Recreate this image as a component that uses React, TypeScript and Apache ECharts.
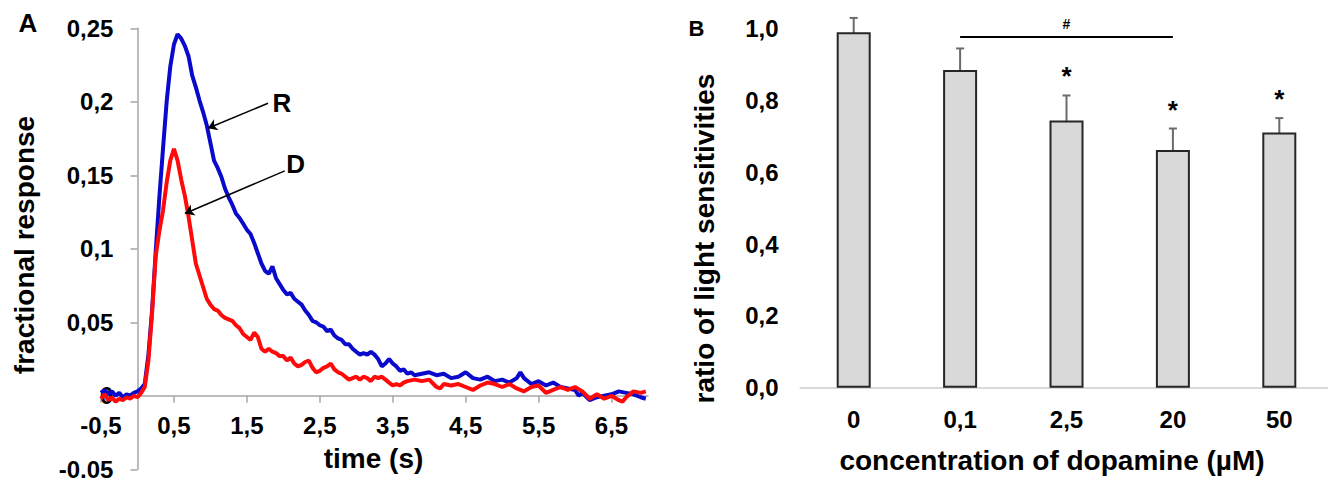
import { useEffect, useRef } from 'react';
import * as echarts from 'echarts';

const FONT = '"Liberation Sans", Arial, Helvetica, sans-serif';

// Panel A: fractional photoresponse over time (s), R = control, D = dopamine
const timeR = [
  -0.5, -0.45, -0.4, -0.35, -0.3, -0.25, -0.2, -0.15, -0.1, -0.05, 0, 0.05, 0.1, 0.15, 0.2, 0.25,
  0.3, 0.35, 0.4, 0.45, 0.5, 0.55, 0.6, 0.65, 0.7, 0.75, 0.8, 0.85, 0.9, 0.95, 1.0, 1.05, 1.1,
  1.15, 1.2, 1.25, 1.3, 1.35, 1.4, 1.45, 1.5, 1.55, 1.6, 1.65, 1.7, 1.75, 1.8, 1.85, 1.9, 1.95,
  2.0, 2.05, 2.1, 2.15, 2.2, 2.25, 2.3, 2.35, 2.4, 2.45, 2.5, 2.55, 2.6, 2.65, 2.7, 2.75, 2.8,
  2.85, 2.9, 2.95, 3.0, 3.05, 3.1, 3.15, 3.2, 3.25, 3.3, 3.35, 3.4, 3.45, 3.5, 3.55, 3.6, 3.65,
  3.7, 3.75, 3.8, 3.9, 4.0, 4.1, 4.2, 4.3, 4.4, 4.5, 4.6, 4.7, 4.8, 4.9, 5.0, 5.1, 5.2, 5.25,
  5.3, 5.4, 5.5, 5.6, 5.7, 5.8, 5.9, 6.0, 6.05, 6.1, 6.2, 6.3, 6.4, 6.5, 6.6, 6.7, 6.8, 6.9, 6.97,
];
const respR = [
  0.002, 0.004, 0.001, 0.003, 0.0, 0.002, -0.001, 0.001, 0.0, 0.002, 0.003, 0.005, 0.008, 0.028,
  0.058, 0.098, 0.135, 0.168, 0.2, 0.224, 0.239, 0.246, 0.243, 0.238, 0.231, 0.218, 0.21, 0.201,
  0.193, 0.184, 0.172, 0.16, 0.155, 0.149, 0.141, 0.135, 0.13, 0.124, 0.121, 0.117, 0.113, 0.11,
  0.104, 0.097, 0.09, 0.085, 0.083, 0.088, 0.08, 0.076, 0.072, 0.069, 0.07, 0.066, 0.064, 0.062,
  0.058, 0.055, 0.051, 0.05, 0.048, 0.047, 0.044, 0.045, 0.041, 0.039, 0.038, 0.035, 0.035,
  0.032, 0.03, 0.028, 0.029, 0.028, 0.03, 0.028, 0.025, 0.02, 0.022, 0.025, 0.022, 0.02, 0.017,
  0.018, 0.015, 0.016, 0.014, 0.015, 0.016, 0.014, 0.015, 0.012, 0.013, 0.016, 0.012, 0.011,
  0.013, 0.01, 0.011, 0.009, 0.012, 0.016, 0.012, 0.008, 0.01, 0.007, 0.009, 0.006, 0.005, 0.004,
  0.0, 0.002, -0.003, -0.001, 0.0, 0.001, 0.003, 0.002, 0.001, -0.001, -0.002,
];
const timeD = [
  -0.5, -0.45, -0.4, -0.35, -0.3, -0.25, -0.2, -0.15, -0.1, -0.05, 0, 0.05, 0.1, 0.15, 0.2, 0.25,
  0.3, 0.35, 0.4, 0.45, 0.5, 0.55, 0.6, 0.65, 0.7, 0.75, 0.8, 0.85, 0.9, 0.95, 1.0, 1.05, 1.1,
  1.15, 1.2, 1.25, 1.3, 1.35, 1.4, 1.45, 1.5, 1.55, 1.6, 1.65, 1.7, 1.75, 1.8, 1.85, 1.9, 1.95,
  2.0, 2.05, 2.1, 2.15, 2.2, 2.25, 2.3, 2.35, 2.4, 2.45, 2.5, 2.55, 2.6, 2.65, 2.7, 2.75, 2.8,
  2.85, 2.9, 2.95, 3.0, 3.05, 3.1, 3.15, 3.2, 3.25, 3.3, 3.35, 3.4, 3.45, 3.5, 3.55, 3.6, 3.65,
  3.7, 3.8, 3.9, 4.0, 4.1, 4.15, 4.2, 4.3, 4.4, 4.5, 4.6, 4.7, 4.8, 4.9, 5.0, 5.1, 5.2, 5.3, 5.4,
  5.5, 5.6, 5.7, 5.8, 5.9, 6.0, 6.1, 6.2, 6.3, 6.4, 6.5, 6.6, 6.65, 6.7, 6.8, 6.9, 6.97,
];
const respD = [
  -0.002, 0.001, -0.003, -0.001, -0.004, -0.002, -0.003, -0.001, -0.002, 0.0, -0.001, 0.002,
  0.006, 0.024, 0.056, 0.095, 0.112, 0.126, 0.145, 0.16, 0.168, 0.16, 0.147, 0.136, 0.122, 0.106,
  0.09, 0.082, 0.074, 0.066, 0.062, 0.059, 0.058, 0.055, 0.053, 0.052, 0.051, 0.048, 0.046,
  0.042, 0.04, 0.038, 0.043, 0.04, 0.032, 0.03, 0.032, 0.03, 0.029, 0.027, 0.027, 0.024, 0.026,
  0.022, 0.02, 0.021, 0.023, 0.024, 0.019, 0.016, 0.017, 0.019, 0.02, 0.022, 0.018, 0.016, 0.015,
  0.013, 0.011, 0.012, 0.013, 0.011, 0.013, 0.012, 0.01, 0.013, 0.012, 0.013, 0.011, 0.009,
  0.007, 0.008, 0.007, 0.009, 0.01, 0.011, 0.01, 0.011, 0.006, 0.005, 0.008, 0.007, 0.008, 0.006,
  0.004, 0.007, 0.009, 0.008, 0.006, 0.008, 0.005, 0.003, 0.006, 0.007, 0.002, 0.004, 0.006,
  0.004, 0.006, 0.003, -0.002, 0.001, -0.002, 0.0, -0.003, -0.004, -0.001, 0.003, 0.002, 0.003,
];
const timeTicksA = [-0.5, 0.5, 1.5, 2.5, 3.5, 4.5, 5.5, 6.5];
const timeRangeA = [-0.5, 7];
const respRangeA = [-0.05, 0.25];

// Panel B: ratio of light sensitivities vs dopamine concentration (µM)
const concentrations = ['0', '0,1', '2,5', '20', '50'];
const sensitivityRatio = [0.99, 0.885, 0.744, 0.662, 0.711];
const sensitivityErr = [0.04, 0.06, 0.07, 0.06, 0.04];
const significance = ['', '', '*', '*', '*'];

const comma = (v: number, digits?: number) =>
  (digits === undefined ? String(Number(v.toFixed(2))) : v.toFixed(digits)).replace('.', ',');

const tickFont = {
  fontFamily: FONT,
  fontWeight: 'bold' as const,
  fontSize: 24,
  lineHeight: 18,
  color: '#000',
};

// plot area of panel A (pixels)
const gridA = { left: 101, top: 28.3, width: 547, height: 441 };
// axes of panel A cross at time 0 and response 0
const xAxisShiftA =
  -gridA.height * ((0 - respRangeA[0]) / (respRangeA[1] - respRangeA[0]));
const yAxisShiftA =
  -gridA.width * ((0 - timeRangeA[0]) / (timeRangeA[1] - timeRangeA[0]));

export default function App() {
  const ref = useRef<HTMLDivElement>(null);

  useEffect(() => {
    if (!ref.current) return;
    const chart = echarts.init(ref.current, undefined, { renderer: 'svg' });

    const option: any = {
      animation: false,
      backgroundColor: '#fff',
      grid: [
        { ...gridA, containLabel: false, outerBoundsMode: 'none' },
        { left: 800.5, top: 28.7, width: 532, height: 359, containLabel: false, outerBoundsMode: 'none' },
      ],
      xAxis: [
        {
          type: 'value',
          gridIndex: 0,
          min: timeRangeA[0],
          max: timeRangeA[1],
          position: 'bottom',
          offset: xAxisShiftA,
          axisLine: { onZero: false, lineStyle: { color: '#a6a6a6', width: 1.5 } },
          axisTick: { show: true, length: 7, customValues: timeTicksA, lineStyle: { color: '#a6a6a6', width: 1.5 } },
          axisLabel: { ...tickFont, margin: 21, customValues: timeTicksA, formatter: (v: number) => comma(v) },
          splitLine: { show: false },
        },
        {
          type: 'category',
          gridIndex: 1,
          data: concentrations,
          axisLine: { lineStyle: { color: '#d9d9d9', width: 2 } },
          axisTick: { show: false },
          axisLabel: { ...tickFont, margin: 23 },
          splitLine: { show: false },
        },
      ],
      yAxis: [
        {
          type: 'value',
          gridIndex: 0,
          min: respRangeA[0],
          max: respRangeA[1],
          interval: 0.05,
          position: 'left',
          offset: yAxisShiftA,
          axisLine: { show: true, onZero: false, lineStyle: { color: '#a6a6a6', width: 1.5 } },
          axisTick: { show: true, length: 7, lineStyle: { color: '#a6a6a6', width: 1.5 } },
          axisLabel: { ...tickFont, margin: 24, formatter: (v: number) => comma(v) },
          splitLine: { show: false },
        },
        {
          type: 'value',
          gridIndex: 1,
          min: 0,
          max: 1,
          interval: 0.2,
          axisLine: { show: false },
          axisTick: { show: false },
          axisLabel: { ...tickFont, margin: 22, formatter: (v: number) => comma(v, 1) },
          splitLine: { show: false },
        },
      ],
      series: [
        {
          name: 'R',
          type: 'line',
          xAxisIndex: 0,
          yAxisIndex: 0,
          data: timeR.map((t, i) => [t, respR[i]]),
          showSymbol: false,
          color: '#0a0acc',
          lineStyle: { width: 4, color: '#0a0acc' },
          markLine: {
            silent: true,
            symbol: ['none', 'arrow'],
            symbolSize: 9,
            label: { show: false },
            lineStyle: { color: '#000', width: 1.5, type: 'solid' },
            data: [[{ coord: [1.79, 0.199] }, { coord: [0.966, 0.182] }]],
          },
          markPoint: {
            silent: true,
            symbol: 'rect',
            symbolSize: 1,
            itemStyle: { color: 'transparent' },
            label: { show: true, position: 'inside', formatter: 'R', fontFamily: FONT, fontWeight: 'bold', fontSize: 26, color: '#000' },
            data: [{ coord: [1.98, 0.1993] }],
          },
        },
        {
          name: 'D',
          type: 'line',
          xAxisIndex: 0,
          yAxisIndex: 0,
          data: timeD.map((t, i) => [t, respD[i]]),
          showSymbol: false,
          color: '#ff0a0a',
          lineStyle: { width: 4, color: '#ff0a0a' },
          markLine: {
            silent: true,
            symbol: ['none', 'arrow'],
            symbolSize: 9,
            label: { show: false },
            lineStyle: { color: '#000', width: 1.5, type: 'solid' },
            data: [[{ coord: [2.02, 0.153] }, { coord: [0.65, 0.124] }]],
          },
          markPoint: {
            silent: true,
            symbol: 'rect',
            symbolSize: 1,
            itemStyle: { color: 'transparent' },
            label: { show: true, position: 'inside', formatter: 'D', fontFamily: FONT, fontWeight: 'bold', fontSize: 26, color: '#000' },
            data: [{ coord: [2.17, 0.1578] }],
          },
        },
        {
          type: 'bar',
          xAxisIndex: 1,
          yAxisIndex: 1,
          data: sensitivityRatio,
          barWidth: 34,
          itemStyle: { color: '#d9d9d9', borderColor: '#262626', borderWidth: 2 },
          markLine: {
            silent: true,
            symbol: 'none',
            lineStyle: { color: '#000', width: 2, type: 'solid' },
            label: {
              show: true,
              position: 'insideMiddleTop',
              formatter: '#',
              distance: 6,
              fontFamily: FONT,
              fontWeight: 'bold',
              fontSize: 14,
              color: '#000',
            },
            data: [[{ coord: ['0,1', 0.977] }, { coord: ['20', 0.977] }]],
          },
        },
        {
          type: 'custom',
          xAxisIndex: 1,
          yAxisIndex: 1,
          encode: { x: 0, y: 1 },
          data: sensitivityRatio.map((m, i) => [i, m, sensitivityErr[i]]),
          renderItem: (params: any, api: any) => {
            const i = api.value(0);
            const mean = api.value(1);
            const err = api.value(2);
            const top = api.coord([i, mean + err]);
            const bottom = api.coord([i, mean - err]);
            const x = top[0];
            const stroke = { stroke: '#6b6b6b', lineWidth: 2 };
            const children: any[] = [
              { type: 'line', shape: { x1: x, y1: top[1], x2: x, y2: bottom[1] }, style: stroke },
              { type: 'line', shape: { x1: x - 4, y1: top[1], x2: x + 4, y2: top[1] }, style: stroke },
              { type: 'line', shape: { x1: x - 4, y1: bottom[1], x2: x + 4, y2: bottom[1] }, style: stroke },
            ];
            const mark = significance[params.dataIndex];
            if (mark) {
              children.push({
                type: 'text',
                style: {
                  text: mark,
                  x,
                  y: top[1] - 19,
                  align: 'center',
                  verticalAlign: 'middle',
                  font: `bold 26px ${FONT}`,
                  fill: '#000',
                },
              });
            }
            return { type: 'group', children };
          },
        },
      ],
      graphic: [
        {
          type: 'text',
          x: 28,
          y: 22.5,
          style: { text: 'A', font: `bold 26px ${FONT}`, fill: '#000', align: 'center', verticalAlign: 'middle' },
        },
        {
          type: 'text',
          x: 696.5,
          y: 28.5,
          style: { text: 'B', font: `bold 22px ${FONT}`, fill: '#000', align: 'center', verticalAlign: 'middle' },
        },
        {
          type: 'text',
          x: 24,
          y: 245,
          rotation: Math.PI / 2,
          style: { text: 'fractional response', font: `bold 28px ${FONT}`, fill: '#000', align: 'center', verticalAlign: 'middle' },
        },
        {
          type: 'text',
          x: 373.5,
          y: 458,
          style: { text: 'time (s)', font: `bold 28px ${FONT}`, fill: '#000', align: 'center', verticalAlign: 'middle' },
        },
        {
          type: 'text',
          x: 704,
          y: 238.5,
          rotation: Math.PI / 2,
          style: { text: 'ratio of light sensitivities', font: `bold 28px ${FONT}`, fill: '#000', align: 'center', verticalAlign: 'middle' },
        },
        {
          type: 'text',
          x: 1052,
          y: 460,
          style: { text: 'concentration of dopamine (µM)', font: `bold 28px ${FONT}`, fill: '#000', align: 'center', verticalAlign: 'middle' },
        },
      ],
    };

    chart.setOption(option);
    return () => chart.dispose();
  }, []);

  return (
    <div
      ref={ref}
      style={{ position: 'absolute', left: 0, top: 0, width: 1328, height: 478, background: '#fff' }}
    />
  );
}
